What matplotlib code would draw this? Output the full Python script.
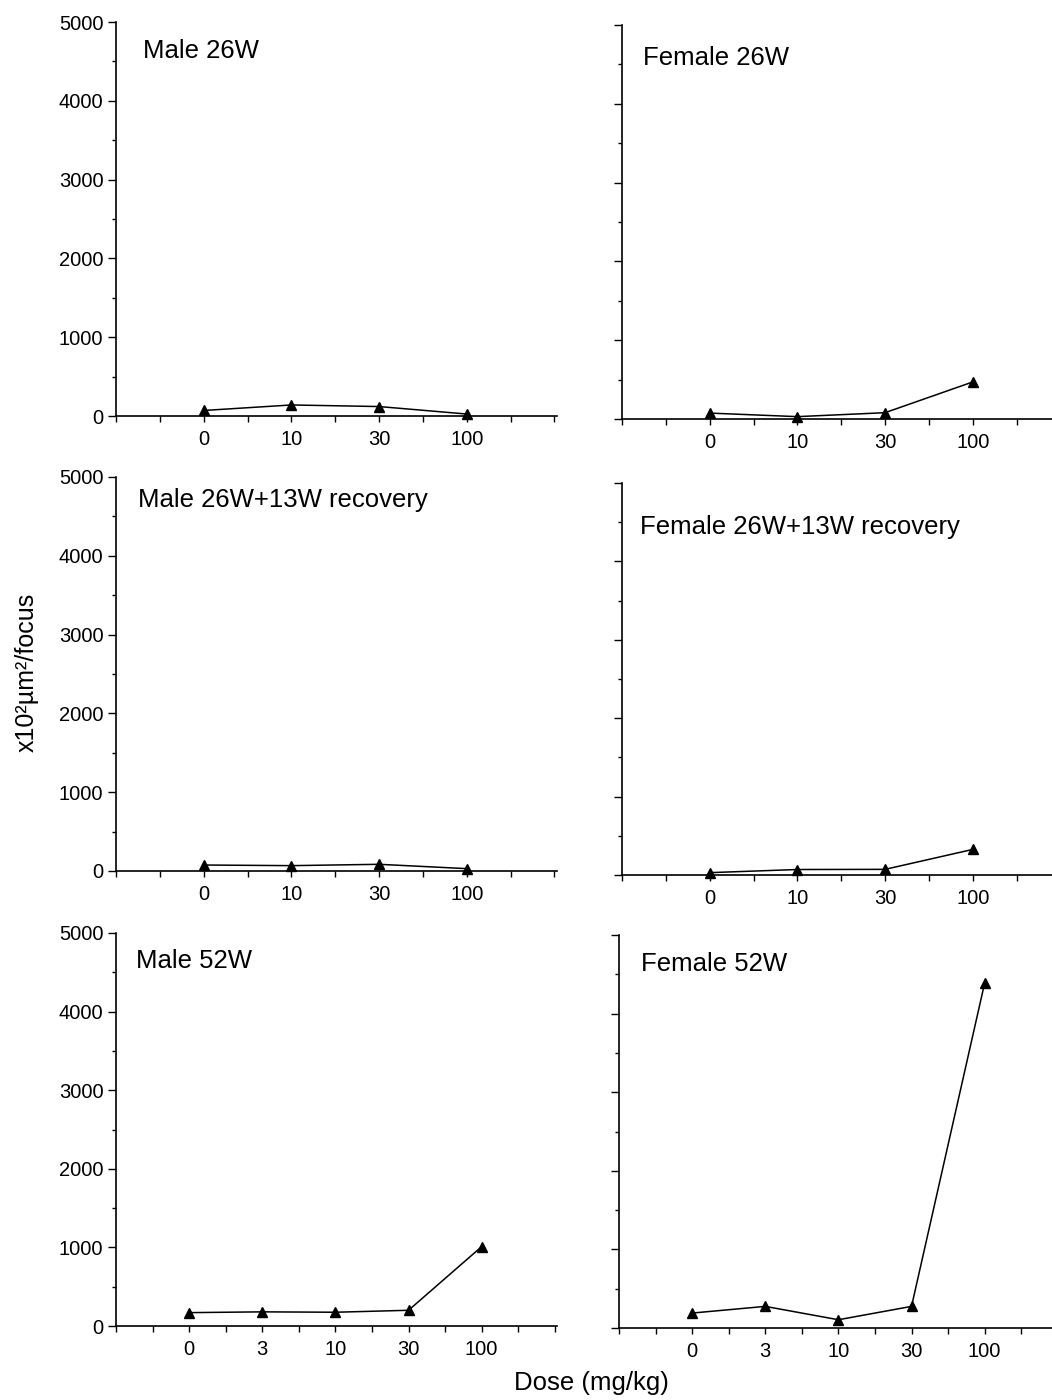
import matplotlib
matplotlib.use("Agg")
import matplotlib.pyplot as plt
from matplotlib.ticker import MultipleLocator

plt.rcParams['font.family'] = ['Liberation Sans', 'DejaVu Sans']

# dose groups (mg/kg)
doses_26 = ['0', '10', '30', '100']
doses_52 = ['0', '3', '10', '30', '100']

# x10^2 um^2/focus
male_26w = [70, 140, 120, 25]
female_26w = [75, 30, 80, 470]
male_rec = [76, 68, 85, 30]
female_rec = [30, 70, 72, 326]
male_52w = [170, 180, 175, 200, 1010]
female_52w = [190, 275, 105, 275, 4390]

titles = ['Male 26W', 'Female 26W',
          'Male 26W+13W recovery', 'Female 26W+13W recovery',
          'Male 52W', 'Female 52W']
series = [male_26w, female_26w, male_rec, female_rec, male_52w, female_52w]
dose_sets = [doses_26, doses_26, doses_26, doses_26, doses_52, doses_52]

W, H = 1052, 1400
fig = plt.figure(figsize=(W / 100, H / 100), dpi=100)

# panel boxes in pixels: left, top, bottom
boxes = [(116, 22, 416), (622, 25, 419),
         (116, 477, 871), (622, 483, 875),
         (116, 933, 1326), (619, 935, 1328)]
# title position in pixels: x offset from axis, baseline below top
title_pos = [(27, 36), (21, 40), (22, 30), (18, 51), (20, 35), (22, 36)]
pw = 441

for i in range(6):
    x0, top, bot = boxes[i]
    ax = fig.add_axes([x0 / W, 1 - bot / H, pw / W, (bot - top) / H])
    vals = series[i]
    labels = dose_sets[i]
    n = len(vals)
    xs = list(range(n))
    ax.plot(xs, vals, color='black', lw=1.1, marker='^', ms=7,
            mfc='black', mec='black', clip_on=False)
    ax.set_xlim(-1, n + 0.03)
    ax.set_ylim(0, 5000)
    for s in ['top', 'right']:
        ax.spines[s].set_visible(False)
    for s in ['left', 'bottom']:
        ax.spines[s].set_linewidth(1.2)
    ax.set_xticks(list(range(-1, n + 1)))
    ax.set_xticklabels([''] + labels + [''])
    ax.xaxis.set_minor_locator(MultipleLocator(0.5))
    ax.yaxis.set_major_locator(MultipleLocator(1000))
    ax.yaxis.set_minor_locator(MultipleLocator(500))
    ax.tick_params(axis='x', which='both', direction='out', length=4,
                   width=1, labelsize=14.5, pad=6)
    ax.tick_params(axis='y', which='major', direction='out', length=6,
                   width=1, labelsize=14.5, pad=3)
    ax.tick_params(axis='y', which='minor', direction='out', length=3, width=1)
    if i % 2 == 1:
        ax.set_yticklabels([])
    tx, ty = title_pos[i]
    ax.text(tx / pw, 1 - ty / (bot - top), titles[i], transform=ax.transAxes,
            fontsize=18.5, ha='left', va='baseline')

fig.text(27 / W, 1 - 672 / H, 'x10²µm²/focus', rotation=90,
         ha='center', va='center', fontsize=18)
fig.text(591 / W, 1 - 1390 / H, 'Dose (mg/kg)', ha='center', va='baseline',
         fontsize=18.5)

fig.savefig('out.png', dpi=100)
